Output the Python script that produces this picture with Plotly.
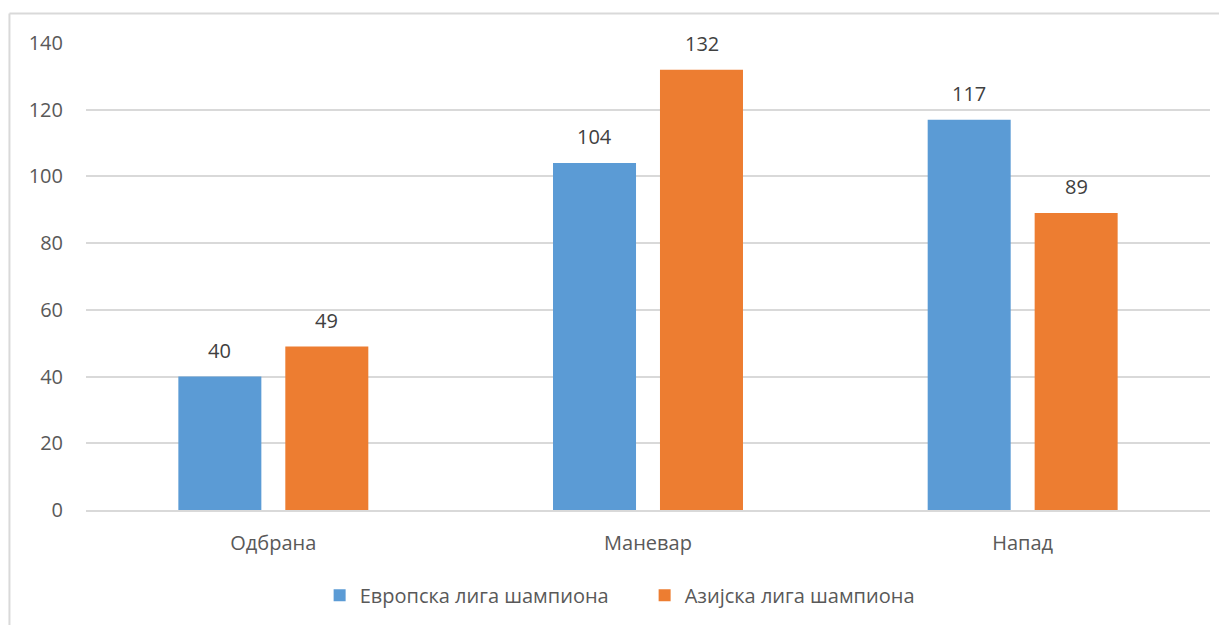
import plotly.graph_objects as go

categories = ["Одбрана", "Маневар", "Напад"]
europe = [40, 104, 117]
asia = [49, 132, 89]
series_names = ["Европска лига шампиона", "Азијска лига шампиона"]
y_ticks = [0, 20, 40, 60, 80, 100, 120, 140]
colors = ["#5b9bd5", "#ed7d31"]

FONT = "Open Sans, Liberation Sans, sans-serif"
FS = 20

fig = go.Figure()
for name, vals, col in zip(series_names, [europe, asia], colors):
    fig.add_trace(go.Bar(x=categories, y=vals, name=name,
                         marker=dict(color=col, line=dict(width=0))))

# data labels placed above each bar through the axes
annotations = []
for vals, shift in [(europe, -53.5), (asia, 53.5)]:
    for c, v in zip(categories, vals):
        annotations.append(dict(x=c, y=v, xref="x", yref="y", text=str(v),
                                showarrow=False, xshift=shift, yshift=11,
                                yanchor="bottom",
                                font=dict(size=FS, color="#404040", family=FONT)))

fig.update_layout(
    width=1219, height=617,
    margin=dict(l=78, r=17, t=35, b=114),
    paper_bgcolor="white", plot_bgcolor="white",
    barmode="group", bargap=0.429, bargroupgap=0.224,
    font=dict(family=FONT, size=FS, color="#595959"),
    showlegend=True,
    legend=dict(orientation="h", x=0.497, xanchor="center", y=-0.18, yanchor="middle",
                font=dict(size=FS, color="#595959"), itemwidth=30, traceorder="normal",
                entrywidth=280, entrywidthmode="pixels"),
    xaxis=dict(showgrid=False, showline=True, linecolor="#d9d9d9", linewidth=1.5,
               ticks="", tickfont=dict(size=FS, color="#595959"), ticklabelstandoff=14),
    yaxis=dict(range=[0, 140], tickvals=y_ticks, showgrid=True, gridcolor="#d9d9d9",
               gridwidth=1.5, zeroline=False, showline=False, ticks="",
               tickfont=dict(size=FS, color="#595959"), ticklabelstandoff=22),
    annotations=annotations,
    shapes=[
        dict(type="line", xref="paper", yref="paper", x0=-0.0681, x1=1.03,
             y0=1.063, y1=1.063, line=dict(color="#d9d9d9", width=2)),
        dict(type="line", xref="paper", yref="paper", x0=-0.0681, x1=-0.0681,
             y0=1.063, y1=-0.3, line=dict(color="#d9d9d9", width=2)),
    ],
)

fig.write_html("out.html")
